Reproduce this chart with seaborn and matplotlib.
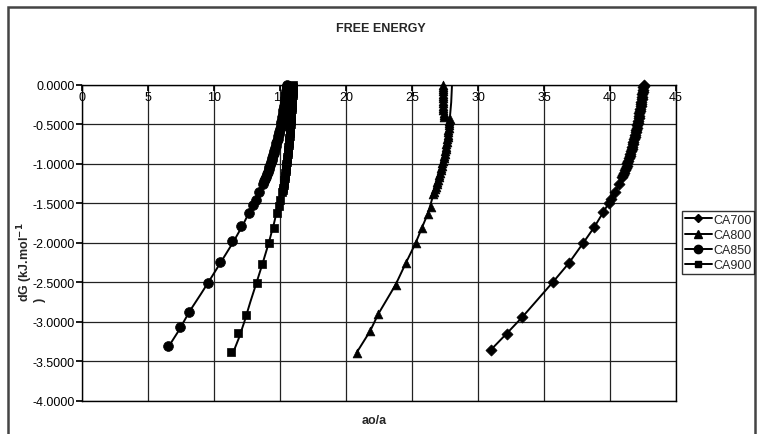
import matplotlib
matplotlib.use("Agg")
import matplotlib.pyplot as plt
import seaborn as sns
from matplotlib.lines import Line2D
from matplotlib.patches import Rectangle
from matplotlib.ticker import FormatStrFormatter, MultipleLocator

# ---------------- data ----------------
ca700_x = [30.95, 32.17, 33.36, 35.66, 36.87, 37.98, 38.81, 39.50, 39.95, 40.10, 40.38, 40.70,
           40.93, 41.00, 41.07, 41.13, 41.20, 41.26, 41.32, 41.38, 41.43, 41.49, 41.54, 41.59,
           41.64, 41.69, 41.74, 41.78, 41.83, 41.87, 41.91, 41.95, 41.99, 42.03, 42.07, 42.10,
           42.14, 42.17, 42.20, 42.23, 42.26, 42.29, 42.32, 42.35, 42.38, 42.40, 42.43, 42.45,
           42.48, 42.50, 42.53, 42.55, 42.56]
ca700_y = [-3.36, -3.15, -2.94, -2.50, -2.26, -2.00, -1.80, -1.61, -1.49, -1.44, -1.36, -1.25,
           -1.17, -1.14, -1.11, -1.08, -1.05, -1.02, -0.99, -0.96, -0.93, -0.90, -0.87, -0.84,
           -0.81, -0.78, -0.75, -0.72, -0.69, -0.66, -0.63, -0.60, -0.57, -0.54, -0.51, -0.48,
           -0.45, -0.42, -0.39, -0.36, -0.33, -0.30, -0.27, -0.24, -0.21, -0.18, -0.15, -0.12,
           -0.09, -0.06, -0.03, -0.01, 0.00]

ca800_x = [20.81, 21.82, 22.45, 23.76, 24.52, 25.28, 25.73, 26.24, 26.42, 26.62, 26.68, 26.74,
           26.80, 26.86, 26.92, 26.98, 27.03, 27.08, 27.13, 27.18, 27.23, 27.27, 27.31, 27.35,
           27.39, 27.43, 27.47, 27.50, 27.54, 27.57, 27.60, 27.63, 27.66, 27.69, 27.71, 27.74,
           27.76, 27.78, 27.80, 27.82, 27.84, 27.86,
           27.40, 27.39, 27.39, 27.38, 27.38, 27.38, 27.37, 27.37, 27.37, 27.36, 27.36, 27.36,
           27.35, 27.35, 27.35]
ca800_y = [-3.39, -3.12, -2.90, -2.53, -2.26, -2.00, -1.81, -1.63, -1.55, -1.38, -1.35, -1.32,
           -1.29, -1.26, -1.23, -1.20, -1.17, -1.14, -1.11, -1.08, -1.05, -1.02, -0.99, -0.96,
           -0.93, -0.90, -0.87, -0.84, -0.81, -0.78, -0.75, -0.72, -0.69, -0.66, -0.63, -0.60,
           -0.57, -0.54, -0.51, -0.48, -0.45, -0.43,
           -0.41, -0.38, -0.35, -0.32, -0.29, -0.26, -0.23, -0.20, -0.17, -0.14, -0.11, -0.08,
           -0.05, -0.02, 0.00]

ca850_x = [6.54, 7.42, 8.11, 9.52, 10.45, 11.39, 12.05, 12.65, 12.98, 13.18, 13.43, 13.69,
           13.78, 13.87, 13.95, 14.02, 14.08, 14.14, 14.20, 14.26, 14.32, 14.38, 14.43, 14.48,
           14.53, 14.58, 14.63, 14.68, 14.73, 14.78, 14.83, 14.88, 14.92, 14.96, 15.00, 15.04,
           15.08, 15.11, 15.14, 15.17, 15.20, 15.23, 15.26, 15.29, 15.32, 15.35, 15.38, 15.41,
           15.43, 15.46, 15.48, 15.50, 15.52, 15.53, 15.54]
ca850_y = [-3.31, -3.07, -2.88, -2.51, -2.24, -1.98, -1.79, -1.62, -1.52, -1.46, -1.36, -1.25,
           -1.22, -1.19, -1.16, -1.13, -1.10, -1.07, -1.04, -1.01, -0.98, -0.95, -0.92, -0.89,
           -0.86, -0.83, -0.80, -0.77, -0.74, -0.71, -0.68, -0.65, -0.62, -0.59, -0.56, -0.53,
           -0.50, -0.47, -0.44, -0.41, -0.38, -0.35, -0.32, -0.29, -0.26, -0.23, -0.20, -0.17,
           -0.14, -0.11, -0.08, -0.05, -0.03, -0.01, 0.00]

ca900_x = [11.26, 11.84, 12.40, 13.23, 13.66, 14.17, 14.55, 14.80, 14.92, 15.00, 15.18, 15.22,
           15.25, 15.28, 15.31, 15.34, 15.36, 15.38, 15.41, 15.43, 15.45, 15.47, 15.49, 15.51,
           15.53, 15.55, 15.57, 15.59, 15.61, 15.63, 15.65, 15.67, 15.69, 15.71, 15.72, 15.74,
           15.76, 15.77, 15.79, 15.80, 15.82, 15.83, 15.85, 15.86, 15.87, 15.88, 15.90, 15.91,
           15.92, 15.93, 15.94, 15.95, 15.96, 15.97, 15.98, 15.99, 16.00]
ca900_y = [-3.38, -3.14, -2.91, -2.51, -2.27, -2.00, -1.81, -1.62, -1.53, -1.46, -1.36, -1.33,
           -1.30, -1.27, -1.24, -1.21, -1.18, -1.15, -1.12, -1.09, -1.06, -1.03, -1.00, -0.97,
           -0.94, -0.91, -0.88, -0.85, -0.82, -0.79, -0.76, -0.73, -0.70, -0.67, -0.64, -0.61,
           -0.58, -0.55, -0.52, -0.49, -0.46, -0.43, -0.40, -0.37, -0.34, -0.31, -0.28, -0.25,
           -0.22, -0.19, -0.16, -0.13, -0.10, -0.07, -0.04, -0.02, 0.00]

# trend lines
ca700_fit_x = [30.95, 32.17, 33.36, 35.66, 36.87, 37.98, 38.81, 39.50, 40.38, 40.93, 41.38,
               41.72, 42.05, 42.30, 42.48, 42.56]
ca700_fit_y = [-3.36, -3.15, -2.94, -2.50, -2.26, -2.00, -1.80, -1.61, -1.36, -1.17, -0.97,
               -0.79, -0.55, -0.31, -0.12, 0.00]
ca800_fit_x = [20.81, 21.82, 22.45, 23.76, 24.52, 25.28, 25.75, 26.22, 26.60, 27.00, 27.35,
               27.65, 27.86, 27.97, 28.03]
ca800_fit_y = [-3.39, -3.12, -2.90, -2.53, -2.26, -2.00, -1.81, -1.62, -1.40, -1.17, -0.92,
               -0.65, -0.43, -0.22, 0.00]
ca850_fit_x = [6.54, 7.30, 8.18, 9.00, 9.57, 10.50, 11.46, 12.20, 12.85, 13.40, 13.85, 14.25,
               14.60, 14.90, 15.15, 15.35, 15.50, 15.55]
ca850_fit_y = [-3.32, -3.12, -2.86, -2.65, -2.50, -2.25, -1.99, -1.77, -1.55, -1.35, -1.17,
               -0.99, -0.80, -0.60, -0.40, -0.20, -0.05, 0.00]
ca900_fit_x = [11.45, 11.90, 12.30, 12.75, 13.23, 13.70, 14.15, 14.55, 14.90, 15.20, 15.45,
               15.65, 15.80, 15.92, 16.00]
ca900_fit_y = [-3.39, -3.20, -3.00, -2.75, -2.50, -2.25, -2.00, -1.75, -1.50, -1.25, -1.00,
               -0.75, -0.50, -0.25, 0.00]

series_names = ["CA700", "CA800", "CA850", "CA900"]
x_ticks = [0, 5, 10, 15, 20, 25, 30, 35, 40, 45]

# ---------------- style ----------------
sns.set_theme(style="white")
plt.rcParams["font.family"] = ["Liberation Sans", "DejaVu Sans"]
plt.rcParams["font.size"] = 9

W, H = 759, 435
fig = plt.figure(figsize=(W / 100, H / 100), dpi=100)
fig.patch.set_facecolor("white")
ax = fig.add_axes([82 / W, 1 - 401.7 / H, (676 - 82) / W, (401.7 - 86) / H])

series = [
    (ca700_x, ca700_y, ca700_fit_x, ca700_fit_y, "D", 32),
    (ca800_x, ca800_y, ca800_fit_x, ca800_fit_y, "^", 40),
    (ca850_x, ca850_y, ca850_fit_x, ca850_fit_y, "o", 50),
    (ca900_x, ca900_y, ca900_fit_x, ca900_fit_y, "s", 36),
]

for (mx, my, fx, fy, mk, s), name in zip(series, series_names):
    sns.lineplot(x=fx, y=fy, sort=False, estimator=None, color="black", lw=1.4, ax=ax,
                 zorder=3)
    sns.scatterplot(x=mx, y=my, marker=mk, s=s, color="black", edgecolor="black",
                    linewidth=0.5, ax=ax, zorder=4, clip_on=False)

ax.set_xlim(0, 45)
ax.set_ylim(-4, 0)
ax.set_xticks(x_ticks)
ax.yaxis.set_major_locator(MultipleLocator(0.5))
ax.yaxis.set_major_formatter(FormatStrFormatter("%.4f"))
ax.grid(True, color="#222222", lw=0.9)
ax.set_axisbelow(True)
for sp in ax.spines.values():
    sp.set_color("black")
    sp.set_linewidth(1.0)

ax.tick_params(axis="x", top=True, bottom=False, labeltop=True, labelbottom=False,
               direction="in", length=4, pad=-13, labelsize=9, colors="black")
ax.tick_params(axis="y", left=True, direction="out", length=4, pad=1, labelsize=9,
               colors="black")
ax.set_xlabel("")
ax.set_ylabel("")

# titles / labels
fig.text(381 / W, 1 - 29 / H, "FREE ENERGY", ha="center", va="center",
         fontsize=9, fontweight="bold")
fig.text(374 / W, 1 - 421 / H, "ao/a", ha="center", va="center",
         fontsize=9, fontweight="bold")
# y label, wrapped in two lines as in the reference
fig.text(25 / W, 1 - 302 / H, "dG (kJ.mol$^{\\mathbf{-1}}$", rotation=90,
         ha="center", va="bottom", fontsize=9, fontweight="bold")
fig.text(40 / W, 1 - 302 / H, ")", rotation=90,
         ha="center", va="bottom", fontsize=9, fontweight="bold")

# legend
handles = [Line2D([0], [0], color="black", lw=1.4, marker=m, markersize=ms)
           for m, ms in zip(["D", "^", "o", "s"], [4.5, 5.5, 6, 5])]
leg = fig.legend(handles, series_names, loc="center left",
                 bbox_to_anchor=(682 / W, 1 - 243.5 / H), frameon=True, fancybox=False,
                 edgecolor="black", fontsize=9, handlelength=2.2, handletextpad=0.1,
                 labelspacing=0.25, borderpad=0.2, borderaxespad=0)
leg.get_frame().set_linewidth(1.0)

# outer chart border (bottom edge lies outside the picture, as in the reference)
fig.patches.append(Rectangle((8 / W, -5 / H), 747 / W, (435 - 7.5 + 5) / H,
                             transform=fig.transFigure, fill=False, edgecolor="#444444",
                             lw=1.8))

fig.savefig("out.png", dpi=100)
